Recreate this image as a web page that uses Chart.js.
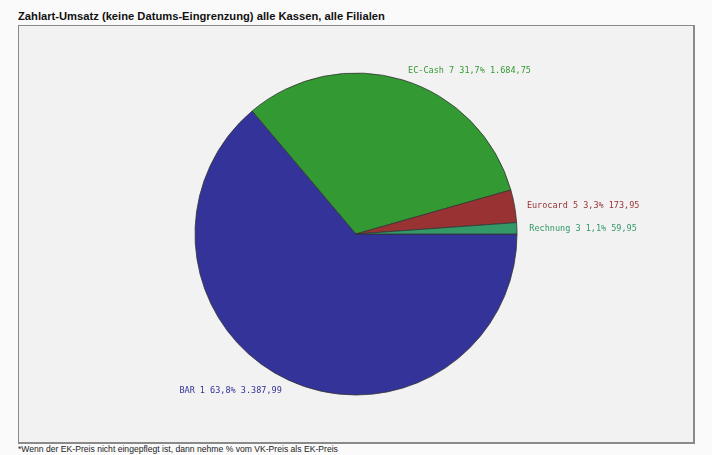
<!DOCTYPE html>
<html>
<head>
<meta charset="utf-8">
<script src="https://cdn.jsdelivr.net/npm/chart.js@4.4.0/dist/chart.umd.min.js"></script>
<style>
  html, body { margin: 0; padding: 0; background: #fafafa; }
  body { width: 712px; height: 455px; position: relative; overflow: hidden; font-family: "Liberation Sans", Arial, sans-serif; }
  #title { position: absolute; left: 18px; top: 10px; font-size: 11.2px; font-weight: bold; color: #111; }
  #box { position: absolute; left: 18px; top: 25px; width: 674px; height: 416px; border: 2px solid #8a8a8a; border-top-width: 1px; border-left-width: 1px; background: #f2f2f2; }
  #note { position: absolute; left: 18px; top: 444px; font-size: 8.6px; color: #222; }
  canvas { display: block; }
</style>
</head>
<body>
<div id="title">Zahlart-Umsatz (keine Datums-Eingrenzung) alle Kassen, alle Filialen</div>
<div id="box"><canvas id="pie" width="674" height="416"></canvas></div>
<div id="note">*Wenn der EK-Preis nicht eingepflegt ist, dann nehme % vom VK-Preis als EK-Preis</div>
<script>
// Zahlarten, Anzahl Buchungen, Umsatz
const categories = ["BAR", "EC-Cash", "Eurocard", "Rechnung"];
const counts = [1, 7, 5, 3];
const sales = [3387.99, 1684.75, 173.95, 59.95];
const colors = ["#333399", "#339933", "#993333", "#339966"];

const total = sales.reduce((a, b) => a + b, 0);
const fmt = (v) => v.toLocaleString("de-DE", { minimumFractionDigits: 2, maximumFractionDigits: 2 });

// draws the "Name Anzahl Prozent Summe" labels next to each slice
const sliceLabels = {
  id: "sliceLabels",
  afterDatasetsDraw(chart) {
    const ctx = chart.ctx;
    const meta = chart.getDatasetMeta(0);
    ctx.save();
    ctx.font = "8.5px 'DejaVu Sans Mono', monospace";
    ctx.textBaseline = "middle";
    meta.data.forEach((arc, i) => {
      const mid = (arc.startAngle + arc.endAngle) / 2;
      const r = arc.outerRadius * 1.065;
      const x = arc.x + Math.cos(mid) * r;
      const y = arc.y + Math.sin(mid) * r;
      const pct = (sales[i] / total * 100).toFixed(1).replace(".", ",");
      const txt = `${categories[i]} ${counts[i]} ${pct}% ${fmt(sales[i])}`;
      ctx.textAlign = x >= arc.x ? "left" : "right";
      ctx.fillStyle = colors[i];
      ctx.fillText(txt, x + (x >= arc.x ? 2 : -2), y + 1);
    });
    ctx.restore();
  }
};

new Chart(document.getElementById("pie"), {
  type: "pie",
  data: {
    labels: categories,
    datasets: [{
      data: sales,
      backgroundColor: colors,
      borderColor: "#333333",
      borderWidth: 0.8,
      radius: 161
    }]
  },
  options: {
    responsive: false,
    animation: false,
    rotation: 90,
    plugins: {
      legend: { display: false },
      tooltip: { enabled: false }
    }
  },
  plugins: [sliceLabels]
});
</script>
</body>
</html>
